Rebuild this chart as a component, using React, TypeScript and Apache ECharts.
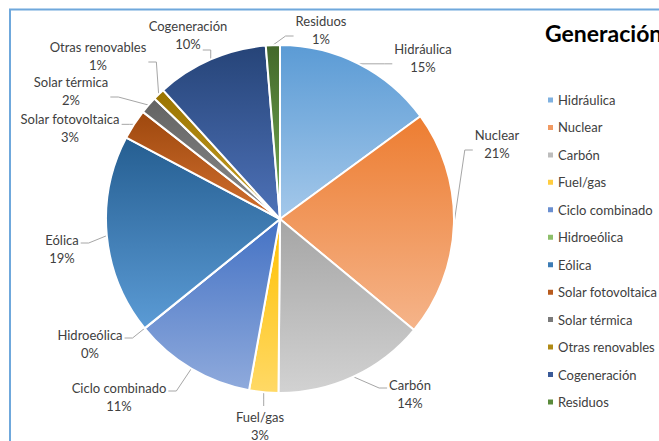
import React, { useEffect, useRef } from "react";
import * as echarts from "echarts";

const categories = [
  "Hidráulica",
  "Nuclear",
  "Carbón",
  "Fuel/gas",
  "Ciclo combinado",
  "Hidroeólica",
  "Eólica",
  "Solar fotovoltaica",
  "Solar térmica",
  "Otras renovables",
  "Cogeneración",
  "Residuos",
];
const values = [14.9, 21.0, 14.1, 2.7, 11.3, 0.02, 18.5, 2.8, 1.6, 1.1, 10.4, 1.3];
const topColors = [
  "#5B9BD5", "#ED7D31", "#A5A5A5", "#FFC000", "#4472C4", "#70AD47",
  "#255E91", "#9E480E", "#636363", "#997300", "#264478", "#43682B",
];
const bottomColors = [
  "#A4C8EA", "#F5B48A", "#D2D2D2", "#FFD966", "#8FAADC", "#A9D18E",
  "#5B9BD5", "#D2702F", "#8C8C8C", "#C9A128", "#4E72B8", "#76AD52",
];
const legendColors = [
  "#7FB1E0", "#F19A62", "#BDBDBD", "#FFCD40", "#6A8FD0", "#8DBF6A",
  "#3D7CB5", "#B85B1E", "#7A7A7A", "#B08A15", "#3A5A98", "#5A8A3B",
];
const titleText = "Generación";

// Label centres (layout only, in chart pixels), Excel-like placement
const labelCenters: [number, number][] = [
  [423, 58],
  [497, 144],
  [410, 394],
  [260, 426],
  [119, 397],
  [90, 344],
  [62, 249],
  [70, 128],
  [71, 91],
  [98, 56],
  [188, 35],
  [321, 30],
];

const LABEL_FONT = "13px Lato";
const LINE_H = 18;

function measure(text: string): number {
  const c = document.createElement("canvas").getContext("2d");
  if (!c) return text.length * 6.5;
  c.font = LABEL_FONT;
  return c.measureText(text).width;
}

export default function App() {
  const ref = useRef<HTMLDivElement>(null);
  useEffect(() => {
    if (!ref.current) return;
    const chart = echarts.init(ref.current, null, { renderer: "svg" });
    const total = values.reduce((a, b) => a + b, 0);
    const pctText = values.map((v) => `${Math.round((v / total) * 100)}%`);
    const data = categories.map((name, i) => ({
      name,
      value: values[i],
      itemStyle: {
        color: new echarts.graphic.LinearGradient(0, 0, 0, 1, [
          { offset: 0, color: topColors[i] },
          { offset: 1, color: bottomColors[i] },
        ]),
      },
    }));
    const labelLayout = (p: any) => {
      const i = p.dataIndex;
      const [cx, cy] = labelCenters[i];
      const w1 = measure(categories[i]);
      const w2 = measure(pctText[i]);
      const h = LINE_H * 2;
      const a = p.labelLinePoints ? p.labelLinePoints[0] : [cx, cy];
      const ax = a[0];
      const ay = a[1];
      let pts: number[][];
      const below = ay > cy;
      const wUse = below && Math.abs(ax - cx) > w2 / 2 + 2 && Math.abs(ax - cx) <= w1 / 2 ? w2 : w1;
      const yBase = wUse === w2 && w2 !== w1 ? cy + LINE_H / 2 : cy;
      if (Math.abs(ax - cx) > wUse / 2) {
        const right = ax > cx;
        const ex = right ? cx + wUse / 2 + 2 : cx - wUse / 2 - 2;
        const ey = Math.max(yBase - 6, Math.min(yBase + 6, ay));
        const bx = right ? ex + 8 : ex - 8;
        pts = [a, [bx, ey], [ex, ey]];
      } else {
        const ey = ay < cy ? cy - h / 2 - 2 : cy + h / 2 + 2;
        pts = [a, [ax, (ay + ey) / 2], [ax, ey]];
      }
      return {
        x: cx,
        y: cy,
        align: "center",
        verticalAlign: "middle",
        labelLinePoints: pts,
      };
    };
    chart.setOption({
      animation: false,
      backgroundColor: "#ffffff",
      title: {
        text: titleText,
        left: 540,
        top: 16,
        textStyle: {
          fontFamily: "Lato",
          fontWeight: "bold",
          fontSize: 23,
          color: "#000000",
        },
      },
      graphic: [
        {
          type: "rect",
          shape: { x: 10, y: 9.5, width: 900, height: 600 },
          style: { fill: "none", stroke: "#6FA8DC", lineWidth: 2 },
          z: 100,
        },
      ],
      legend: {
        orient: "vertical",
        left: 541,
        top: 88,
        icon: "rect",
        itemWidth: 7,
        itemHeight: 7,
        itemGap: 13.45,
        data: categories.map((name, i) => ({
          name,
          itemStyle: { color: legendColors[i] },
        })),
        textStyle: {
          fontFamily: "Lato",
          fontSize: 13,
          lineHeight: 14,
          color: "#404040",
          padding: [0, 0, 0, -1],
        },
      },
      series: [
        {
          type: "pie",
          center: [280, 219],
          radius: [0, 174],
          startAngle: 90,
          clockwise: true,
          itemStyle: { borderColor: "#ffffff", borderWidth: 2 },
          label: {
            show: true,
            position: "outside",
            fontFamily: "Lato",
            fontSize: 13,
            lineHeight: LINE_H,
            color: "#404040",
            align: "center",
            overflow: "none",
            formatter: (p: any) => `${p.name}\n${pctText[p.dataIndex]}`,
          },
          labelLine: {
            show: true,
            length: 10,
            length2: 10,
            lineStyle: { color: "#A6A6A6", width: 1 },
          },
          labelLayout,
          data,
        },
      ],
    });
    return () => chart.dispose();
  }, []);
  return (
    <div
      ref={ref}
      style={{ position: "fixed", left: 0, top: 0, width: 659, height: 441 }}
    />
  );
}
